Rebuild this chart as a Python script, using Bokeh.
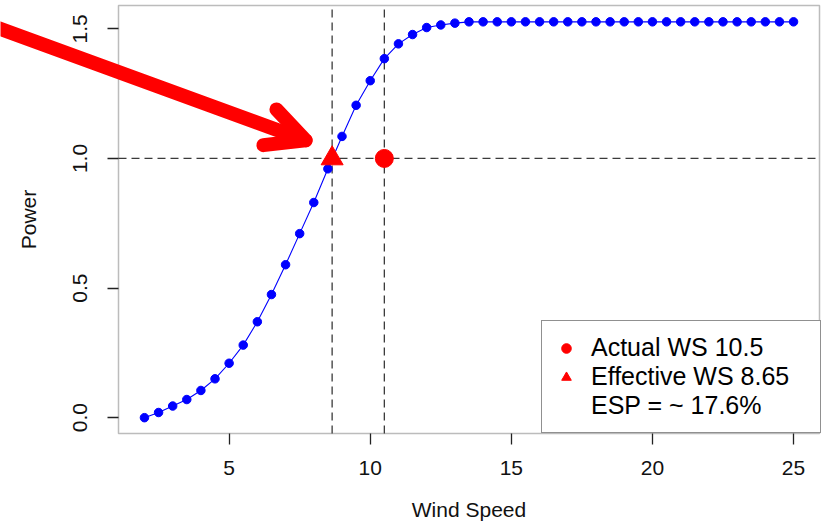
import math
from bokeh.plotting import figure
from bokeh.models import (Range1d, FixedTicker, Arrow, OpenHead, Legend,
                          LegendItem, PrintfTickFormatter, BoxAnnotation, Label)
from bokeh.embed import file_html
from bokeh.resources import INLINE

# ---- data ----
wind_speed = [2.0, 2.5, 3.0, 3.5, 4.0, 4.5, 5.0, 5.5, 6.0, 6.5, 7.0, 7.5, 8.0,
              8.5, 9.0, 9.5, 10.0, 10.5, 11.0, 11.5, 12.0, 12.5, 13.0, 13.5,
              14.0, 14.5, 15.0, 15.5, 16.0, 16.5, 17.0, 17.5, 18.0, 18.5, 19.0,
              19.5, 20.0, 20.5, 21.0, 21.5, 22.0, 22.5, 23.0, 23.5, 24.0, 24.5,
              25.0]
power = [0.0, 0.02, 0.045, 0.07, 0.105, 0.15, 0.21, 0.28, 0.37, 0.475, 0.59,
         0.71, 0.83, 0.96, 1.085, 1.205, 1.30, 1.385, 1.442, 1.478, 1.505,
         1.515, 1.522, 1.527, 1.527, 1.527, 1.527, 1.527, 1.527, 1.527, 1.527,
         1.527, 1.527, 1.527, 1.527, 1.527, 1.527, 1.527, 1.527, 1.527, 1.527,
         1.527, 1.527, 1.527, 1.527, 1.527, 1.527]

actual_ws = 10.5
effective_ws = 8.65
target_power = 1.0
esp_text = "ESP = ~ 17.6%"

x_ticks = [5, 10, 15, 20, 25]
y_ticks = [0.0, 0.5, 1.0, 1.5]
x_title = "Wind Speed"
y_title = "Power"

# plotting-region limits (R style, 4% padding)
xlim = (1.08, 25.92)
ylim = (-0.061, 1.59)

# annotation arrow (data coordinates)
arrow_start = (-4.5, 1.555)
arrow_end = (7.71, 1.07)

# ---- layout constants (pixels) ----
W, H = 827, 522
BOX_L, BOX_R, BOX_T, BOX_B = 118, 819, 5, 433
LEGEND_LEFT = 541
XTITLE_Y = 509   # from top
YTITLE_X = 28    # from left
FONT = "Liberation Sans"

# frame covers the whole canvas so the arrow can leave the plotting box
sx = (BOX_R - BOX_L) / (xlim[1] - xlim[0])
sy = (BOX_B - BOX_T) / (ylim[1] - ylim[0])
x_range = Range1d(xlim[0] - BOX_L / sx, xlim[1] + (W - BOX_R) / sx)
y_range = Range1d(ylim[0] - (H - BOX_B) / sy, ylim[1] + BOX_T / sy)

p = figure(width=W, height=H, output_backend="svg", toolbar_location=None,
           x_range=x_range, y_range=y_range,
           min_border_left=0, min_border_right=0, min_border_top=0,
           min_border_bottom=0)
p.background_fill_color = "white"
p.border_fill_color = "white"
p.grid.visible = False
p.outline_line_color = None

for ax in (p.xaxis[0], p.yaxis[0]):
    ax.axis_line_color = None
    ax.major_tick_in = 0
    ax.major_tick_out = 11
    ax.major_tick_line_color = "#222222"
    ax.major_tick_line_width = 1.3
    ax.minor_tick_line_color = None
    ax.major_label_text_font = FONT
    ax.major_label_text_font_size = "21px"
    ax.major_label_text_color = "#111111"

p.xaxis.fixed_location = ylim[0]
p.yaxis.fixed_location = xlim[0]
p.xaxis.ticker = FixedTicker(ticks=x_ticks)
p.yaxis.ticker = FixedTicker(ticks=y_ticks)
p.yaxis.formatter = PrintfTickFormatter(format="%.1f")
p.yaxis.major_label_orientation = "vertical"
p.xaxis.major_label_standoff = 16
p.yaxis.major_label_standoff = 20

# axis titles
p.add_layout(Label(x=(xlim[0] + xlim[1]) / 2, y=H - XTITLE_Y, y_units="screen",
                   text=x_title, text_align="center", text_baseline="middle",
                   text_font=FONT, text_font_size="21px", text_color="#111111"))
p.add_layout(Label(x=YTITLE_X, x_units="screen", y=(ylim[0] + ylim[1]) / 2,
                   text=y_title, angle=math.pi / 2, text_align="center",
                   text_baseline="middle", text_font=FONT, text_font_size="21px",
                   text_color="#111111"))

# plotting box
p.add_layout(BoxAnnotation(left=xlim[0], right=xlim[1], bottom=ylim[0], top=ylim[1],
                           fill_alpha=0, line_color="#222222", line_width=1.5,
                           level="underlay"))

# reference lines (dashed, inside the box only)
p.segment(x0=[effective_ws, actual_ws], y0=[ylim[0], ylim[0]],
          x1=[effective_ws, actual_ws], y1=[ylim[1], ylim[1]],
          line_color="#3a3a3a", line_dash="8 5", line_width=1.3)
p.segment(x0=[xlim[0]], y0=[target_power], x1=[xlim[1]], y1=[target_power],
          line_color="#3a3a3a", line_dash="8 5", line_width=1.3)

# power curve
p.line(wind_speed, power, line_color="blue", line_width=1.1)
p.scatter(wind_speed, power, size=8.5, fill_color="blue", line_color="blue")

# red markers
r_actual = p.scatter([actual_ws], [target_power], marker="circle", size=18,
                     fill_color="red", line_color="red")
r_eff = p.scatter([effective_ws], [target_power], marker="triangle", size=22,
                  fill_color="red", line_color="red")
r_dummy = p.scatter([actual_ws], [target_power], size=1, fill_alpha=0, line_alpha=0)

legend = Legend(items=[
    LegendItem(label=f"Actual WS {actual_ws}", renderers=[r_actual]),
    LegendItem(label=f"Effective WS {effective_ws}", renderers=[r_eff]),
    LegendItem(label=esp_text, renderers=[r_dummy]),
], location=(LEGEND_LEFT, H - BOX_B), margin=0, padding=12, spacing=0,
    glyph_width=24, glyph_height=28, label_height=28, label_standoff=13,
    label_width=(BOX_R - LEGEND_LEFT) - 12 - 24 - 13 - 12,
    label_text_font=FONT, label_text_font_size="25px", label_text_color="black",
    border_line_color="#222222", border_line_width=1.5,
    background_fill_color="white", background_fill_alpha=1.0)
p.add_layout(legend)

# big red arrow
p.add_layout(Arrow(end=OpenHead(size=38, line_color="red", line_width=14,
                                line_cap="round", line_join="round"),
                   x_start=arrow_start[0], y_start=arrow_start[1],
                   x_end=arrow_end[0], y_end=arrow_end[1],
                   line_color="red", line_width=14, line_cap="round"))

open("out.html", "w").write(file_html(p, INLINE))
